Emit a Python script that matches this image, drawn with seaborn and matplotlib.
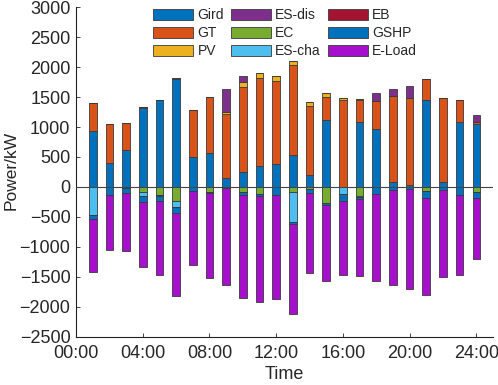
import numpy as np
import matplotlib
matplotlib.use('Agg')
import matplotlib.pyplot as plt
import seaborn as sns

# hourly dispatch, kW
hours = list(range(1, 25))

# supply side (stacked upward)
gird = [933, 395, 611, 1320, 1450, 1792, 506, 572, 145, 245, 350, 378,
        533, 200, 1111, 0, 1080, 975, 90, 35, 1445, 86, 1083, 1056]
gt = [472, 650, 450, 19, 0, 30, 777, 922, 1077, 1422, 1461, 1383,
      1495, 1150, 395, 1445, 375, 458, 1427, 1454, 349, 1392, 373, 33]
pv = [0, 0, 0, 0, 0, 0, 8, 12, 34, 83, 95, 87,
      72, 67, 55, 33, 12, 0, 0, 0, 0, 0, 0, 0]
es_dis = [0, 0, 0, 0, 0, 0, 0, 0, 383, 95, 0, 0,
          0, 0, 0, 0, 0, 128, 111, 194, 0, 0, 0, 111]

# demand side (stacked downward)
ec = [0, 0, 0, 80, 130, 230, 0, 90, 0, 85, 110, 0,
      85, 40, 260, 0, 150, 0, 0, 0, 65, 0, 0, 85]
es_cha = [467, 0, 0, 65, 0, 100, 0, 0, 0, 0, 0, 0,
          495, 0, 0, 120, 25, 0, 0, 0, 0, 0, 0, 0]
eb = [0, 0, 15, 0, 20, 0, 0, 0, 0, 0, 0, 0,
      0, 0, 0, 0, 0, 0, 0, 0, 0, 0, 0, 0]
gshp = [72, 135, 85, 110, 80, 105, 65, 10, 25, 50, 40, 140,
        35, 55, 40, 110, 25, 120, 55, 40, 120, 55, 130, 105]
e_load = [878, 911, 966, 1083, 1234, 1389, 1227, 1417, 1615, 1723, 1761, 1722,
          1507, 1339, 1272, 1242, 1283, 1445, 1577, 1654, 1615, 1439, 1331, 1016]

tick_hours = [0, 4, 8, 12, 16, 20, 24]
tick_labels = ['00:00', '04:00', '08:00', '12:00', '16:00', '20:00', '24:00']

sns.set_style('ticks')
plt.rcParams['font.family'] = ['Liberation Sans', 'DejaVu Sans']

fig = plt.figure(figsize=(4.98, 3.85), dpi=100)
ax = fig.add_axes([0.1526, 0.1247, 0.8374, 0.8571])

supply = [('Gird', gird, '#0072BD'), ('GT', gt, '#D95319'),
          ('PV', pv, '#EDB120'), ('ES-dis', es_dis, '#7E2F8E')]
demand = [('EC', ec, '#77AC30'), ('ES-cha', es_cha, '#4DBEEE'),
          ('EB', eb, '#A2142F'), ('GSHP', gshp, '#0072BD'),
          ('E-Load', e_load, '#A60FCC')]

bar_kw = dict(native_scale=True, saturation=1, width=0.46, errorbar=None,
              edgecolor='#3a3a3a', linewidth=0.6, ax=ax)

bottom = np.zeros(len(hours))
for name, vals, col in supply:
    sns.barplot(x=hours, y=vals, color=col, bottom=bottom.copy(), label=name, **bar_kw)
    bottom += np.array(vals)

bottom = np.zeros(len(hours))
for name, vals, col in demand:
    neg = -np.array(vals, dtype=float)
    sns.barplot(x=hours, y=neg, color=col, bottom=bottom.copy(), label=name, **bar_kw)
    bottom += neg

ax.axhline(0, color='#444444', lw=0.8, zorder=5)

ax.set_xlim(0, 25)
ax.set_ylim(-2500, 3000)
ax.set_xticks(tick_hours)
ax.set_xticklabels(tick_labels)
ax.set_yticks(range(-2500, 3001, 500))
ax.tick_params(direction='in', length=3, width=0.6, labelsize=13)
ax.tick_params(axis='x', pad=6)
ax.tick_params(axis='y', pad=4)
for s in ['top', 'right']:
    ax.spines[s].set_visible(False)
for s in ['left', 'bottom']:
    ax.spines[s].set_linewidth(0.8)
    ax.spines[s].set_color('#222222')

ax.set_xlabel('Time', fontsize=13, labelpad=3)
ax.set_ylabel('Power/kW', fontsize=12.5)
ax.yaxis.set_label_coords(-0.138, 0.505)

ax.legend(ncol=3, frameon=False, fontsize=10, loc='upper left',
          bbox_to_anchor=(153 / 498, 1 - 8 / 385), bbox_transform=fig.transFigure,
          borderpad=0, borderaxespad=0, handlelength=2.9, handleheight=0.85,
          handletextpad=0.3, labelspacing=0.3, columnspacing=0.5)

fig.savefig('out.png', dpi=100)
